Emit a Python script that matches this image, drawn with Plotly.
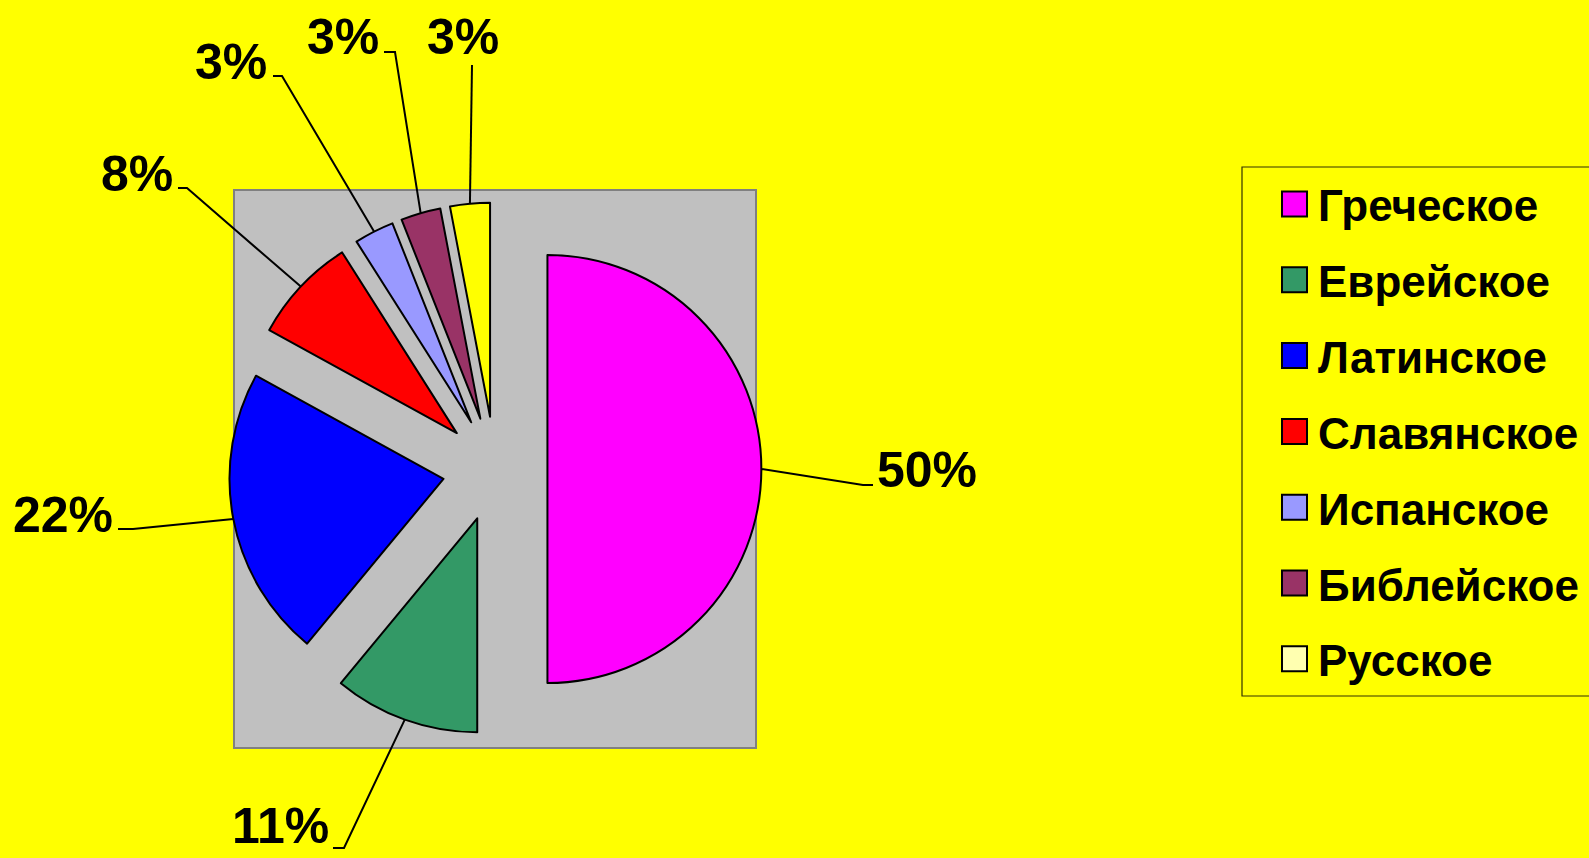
import math
import plotly.graph_objects as go

# ---- data ----
labels = ["Греческое", "Еврейское", "Латинское", "Славянское", "Испанское", "Библейское", "Русское"]
values = [50, 11, 22, 8, 3, 3, 3]
slice_colors = ["#FF00FF", "#339966", "#0000FF", "#FF0000", "#9999FF", "#993366", "#FFFF00"]
legend_colors = ["#FF00FF", "#339966", "#0000FF", "#FF0000", "#9999FF", "#993366", "#FFFFB0"]

# ---- layout geometry (pixels in the 1589x858 page) ----
W, H = 1589, 858
CX, CY = 495, 469
R = 214
PULL = 0.245
S = R * (2 + 2 * PULL)  # plotly: r = min(box) / (2 + 2*maxPull)

# percentage label text centres, leader elbows and tick ends (manual label placement)
label_centres = [(927, 470), (280, 826), (63, 515), (137, 174), (231, 62), (343, 37), (463, 37)]
leader_elbows = [(863, 485), (344, 848), (133, 529), (187, 188), (282, 76), (395, 52), (472, 65)]
leader_ends = [(873, 485), (333, 848), (118, 529), (178, 188), (273, 76), (384, 52), (472, 65)]

FONT = "Arial, 'Liberation Sans', sans-serif"


def px(x):
    return x / W


def py(y):
    return 1 - y / H


fig = go.Figure(
    go.Pie(
        labels=labels,
        values=values,
        sort=False,
        direction="clockwise",
        rotation=0,
        pull=PULL,
        textinfo="none",
        hoverinfo="label+percent",
        marker=dict(colors=slice_colors, line=dict(color="#000000", width=2)),
        domain=dict(x=[px(CX - S / 2), px(CX + S / 2)], y=[py(CY + S / 2), py(CY - S / 2)]),
        showlegend=False,
        automargin=False,
    )
)

shapes = []
annotations = []

# grey plot area
shapes.append(dict(type="rect", xref="paper", yref="paper", layer="below",
                   x0=px(234), x1=px(756), y0=py(748), y1=py(190),
                   fillcolor="#C0C0C0", line=dict(color="#808080", width=2)))

# percentage labels with leader lines
total = sum(values)
cum = 0
for i, v in enumerate(values):
    mid = (cum + v / 2) / total
    cum += v
    th = 2 * math.pi * mid
    sx = CX + (1 + PULL) * R * math.sin(th)
    sy = CY - (1 + PULL) * R * math.cos(th)
    ex, ey = leader_elbows[i]
    tx, ty = leader_ends[i]
    path = f"M {px(sx)},{py(sy)} L {px(ex)},{py(ey)} L {px(tx)},{py(ty)}"
    shapes.append(dict(type="path", xref="paper", yref="paper", path=path,
                       line=dict(color="#000000", width=2), layer="above"))
    cxl, cyl = label_centres[i]
    pct = round(100 * v / total)
    annotations.append(dict(xref="paper", yref="paper", x=px(cxl), y=py(cyl),
                            text=f"<b>{pct}%</b>", showarrow=False,
                            xanchor="center", yanchor="middle",
                            font=dict(family=FONT, size=50, color="#000000")))

# legend box
shapes.append(dict(type="rect", xref="paper", yref="paper", layer="below",
                   x0=px(1242), x1=px(1600), y0=py(696), y1=py(167),
                   fillcolor="rgba(0,0,0,0)", line=dict(color="#333300", width=1.2)))
LEG_Y0, LEG_DY = 204, 75.8
for i, lab in enumerate(labels):
    yc = LEG_Y0 + i * LEG_DY
    shapes.append(dict(type="rect", xref="paper", yref="paper", layer="above",
                       x0=px(1282), x1=px(1307), y0=py(yc + 12.5), y1=py(yc - 12.5),
                       fillcolor=legend_colors[i], line=dict(color="#000000", width=2)))
    annotations.append(dict(xref="paper", yref="paper", x=px(1316), y=py(yc + 2),
                            text=f"<b>{lab}</b>", showarrow=False,
                            xanchor="left", yanchor="middle",
                            font=dict(family=FONT, size=44, color="#000000")))

fig.update_layout(
    width=W, height=H,
    margin=dict(l=0, r=0, t=0, b=0),
    paper_bgcolor="#FFFF00",
    plot_bgcolor="#FFFF00",
    shapes=shapes,
    annotations=annotations,
)

fig.write_html("out.html",
               config={"displayModeBar": False},
               post_script="document.body.style.margin='0';document.body.style.background='#FFFF00';")
